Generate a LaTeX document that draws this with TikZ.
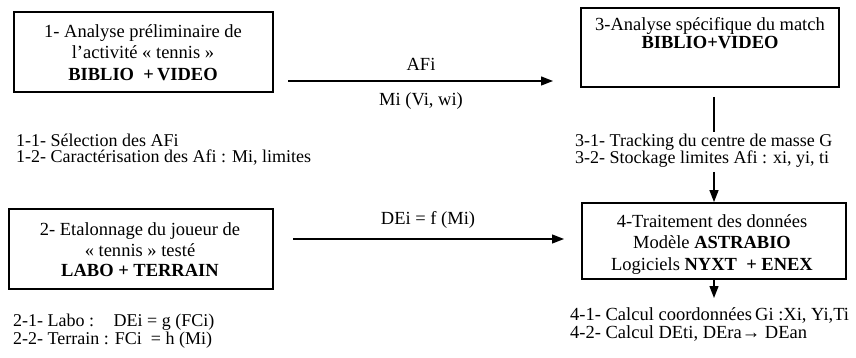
\documentclass[tikz,border=0pt]{standalone}
\usepackage{fontspec}
\setmainfont{Liberation Serif}
\usetikzlibrary{arrows.meta}
\begin{document}
\begin{tikzpicture}[x=1pt,y=-1pt,
  every node/.style={font=\fontsize{18.5}{20}\selectfont, inner sep=0pt},
  stepbox/.style={draw, line width=1.8pt, inner sep=0pt},
  arr/.style={line width=1.3pt, -{Triangle[length=12pt,width=9pt]}},
  ln/.style={anchor=base},
  lst/.style={anchor=base west, align=left, font=\fontsize{18}{16}\selectfont}]
\useasboundingbox (0,0) rectangle (856,358);
% boxes
\node[stepbox, minimum width=259pt, minimum height=80pt] (b1) at (143.5,52) {};
\node[ln] (b1a) at (143,38) {1- Analyse préliminaire de};
\node[ln] (b1b) at (143,59) {l’activité « tennis »};
\node[ln] (b1c) at (143,81) {\textbf{BIBLIO~ +\,VIDEO}};
\node[stepbox, minimum width=258pt, minimum height=79pt] (b3) at (710,47.5) {};
\node[ln] (b3a) at (710,31) {3-Analyse spécifique du match};
\node[ln] (b3b) at (710,49) {\textbf{BIBLIO+VIDEO}};
\node[stepbox, minimum width=264pt, minimum height=80pt] (b2) at (141,249) {};
\node[ln] (b2a) at (140,235) {2- Etalonnage du joueur de};
\node[ln] (b2b) at (140,256) {« tennis » testé};
\node[ln] (b2c) at (140,276) {\textbf{LABO + TERRAIN}};
\node[stepbox, minimum width=264pt, minimum height=76pt] (b4) at (714,241) {};
\node[ln] (b4a) at (712,227) {4-Traitement des données};
\node[ln] (b4b) at (712,248) {Modèle \textbf{ASTRABIO}};
\node[ln] (b4c) at (712,270) {Logiciels \textbf{NYXT~ + ENEX}};
% lists (base anchor = baseline of last line)
\node[lst] (l1) at (16,163) {1-1- Sélection des AFi\\1-2- Caractérisation des Afi : Mi, limites};
\node[lst] (l3) at (575,164) {3-1- Tracking du centre de masse G\\3-2- Stockage limites Afi : xi, yi, ti};
\node[lst] (l2) at (13,344) {2-1- Labo :~~~ DEi = g (FCi)\\2-2- Terrain : FCi~ = h (Mi)};
\node[lst, font=\fontsize{18.5}{18}\selectfont] (l4) at (570,338) {4-1- Calcul coordonnées\,Gi :Xi, Yi,Ti\\4-2- Calcul DEti, DEra\textrightarrow\ DEan};
% connectors
\coordinate (a1s) at (288,81);
\coordinate (a1e) at (553,81);
\draw[arr] (a1s) -- (a1e);
\node[ln] (afi) at (421,71) {AFi};
\node[ln] (mi) at (421,106) {Mi (Vi, wi)};
\coordinate (a2s) at (293,239);
\coordinate (a2e) at (564,239);
\draw[arr] (a2s) -- (a2e);
\node[ln] (dei) at (428,224) {DEi = f (Mi)};
\coordinate (v1s) at (714,97);
\coordinate (v1e) at (714,132);
\draw[line width=1.3pt] (v1s) -- (v1e);
\coordinate (v2s) at (714,172);
\draw[arr] (v2s) -- (b4.north -| v2s);
\coordinate (v3e) at (714,298);
\draw[arr] (b4.south -| v3e) -- (v3e);
\end{tikzpicture}
\end{document}
